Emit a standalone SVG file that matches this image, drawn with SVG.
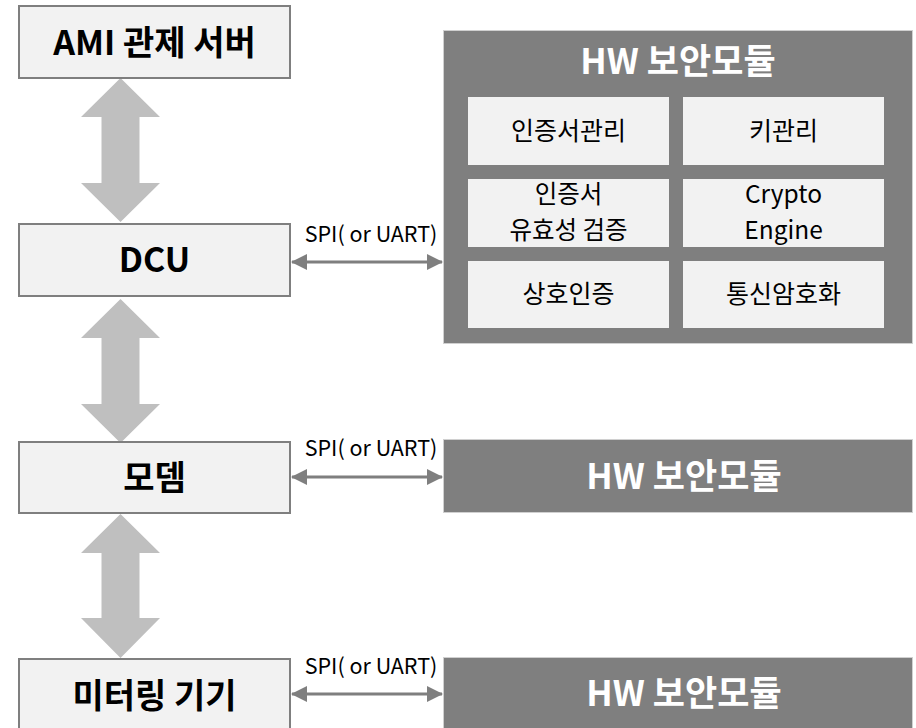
<svg xmlns="http://www.w3.org/2000/svg" width="916" height="728" viewBox="0 0 916 728">
<style>
text{font-family:"Noto Sans CJK KR","Noto Sans",sans-serif;text-anchor:middle}
.box{fill:#f2f2f2;stroke:#7f7f7f;stroke-width:2}
.hw{fill:#7f7f7f;stroke:#d0d0d0;stroke-width:1}
.cell{fill:#f2f2f2}
.t1{font-size:34px;font-weight:700;fill:#000}
.th{font-size:35px;font-weight:700;fill:#fff}
.tc{font-size:25px;fill:#000}
.tc2{font-size:24.5px;fill:#000}
.lbl{font-size:21.5px;fill:#000}
.big{fill:#bfbfbf}
.link{stroke:#7f7f7f;stroke-width:3;fill:none;marker-start:url(#ah);marker-end:url(#ah)}
</style>
<defs>
<marker id="ah" markerUnits="userSpaceOnUse" markerWidth="16" markerHeight="16" refX="15" refY="8" orient="auto-start-reverse">
<path d="M0,0 L16,8 L0,16 Z" fill="#7f7f7f"/>
</marker>
</defs>
<g id="connectors">
<polygon class="big" points="120.5,78 160,117 139.5,117 139.5,183 160,183 120.5,222 81,183 101.5,183 101.5,117 81,117"/>
<polygon class="big" points="120.5,299 160,338 139.5,338 139.5,404 160,404 120.5,443 81,404 101.5,404 101.5,338 81,338"/>
<polygon class="big" points="120.5,514 160,553 139.5,553 139.5,618 160,618 120.5,658 81,618 101.5,618 101.5,553 81,553"/>
<line class="link" x1="292" y1="262" x2="442" y2="262"/>
<line class="link" x1="292" y1="477" x2="442" y2="477"/>
<line class="link" x1="292" y1="694" x2="442" y2="694"/>
<text class="lbl" x="371" y="242">SPI( or UART)</text>
<text class="lbl" x="371" y="456">SPI( or UART)</text>
<text class="lbl" x="371" y="674">SPI( or UART)</text>
</g>
<g id="ami">
<rect class="box" x="19" y="6" width="271" height="72"/>
<text class="t1" x="154.5" y="55">AMI 관제 서버</text>
</g>
<g id="dcu">
<rect class="box" x="19" y="224" width="271" height="72"/>
<text class="t1" x="154.5" y="272">DCU</text>
</g>
<g id="modem">
<rect class="box" x="19" y="442" width="271" height="71"/>
<text class="t1" x="154.5" y="490">모뎀</text>
</g>
<g id="meter">
<rect class="box" x="19" y="659" width="271" height="80"/>
<text class="t1" x="154.5" y="708">미터링 기기</text>
</g>
<g id="hw1">
<rect class="hw" x="443.5" y="30.5" width="469" height="313"/>
<text class="th" x="678" y="74">HW 보안모듈</text>
<rect class="cell" x="468" y="97" width="201" height="68"/>
<rect class="cell" x="683" y="97" width="201" height="68"/>
<rect class="cell" x="468" y="179" width="201" height="68"/>
<rect class="cell" x="683" y="179" width="201" height="68"/>
<rect class="cell" x="468" y="261" width="201" height="67"/>
<rect class="cell" x="683" y="261" width="201" height="67"/>
<text class="tc" x="568.5" y="140">인증서관리</text>
<text class="tc" x="783.5" y="140">키관리</text>
<text class="tc2" x="568.5" y="203">인증서</text>
<text class="tc2" x="568.5" y="239">유효성 검증</text>
<text class="tc2" x="783.5" y="203">Crypto</text>
<text class="tc2" x="783.5" y="239">Engine</text>
<text class="tc" x="568.5" y="303">상호인증</text>
<text class="tc" x="783.5" y="303">통신암호화</text>
</g>
<g id="hw2">
<rect class="hw" x="443.5" y="439.5" width="469" height="73"/>
<text class="th" x="684" y="489">HW 보안모듈</text>
</g>
<g id="hw3">
<rect class="hw" x="443.5" y="657.5" width="469" height="80"/>
<text class="th" x="684" y="706">HW 보안모듈</text>
</g>
</svg>
